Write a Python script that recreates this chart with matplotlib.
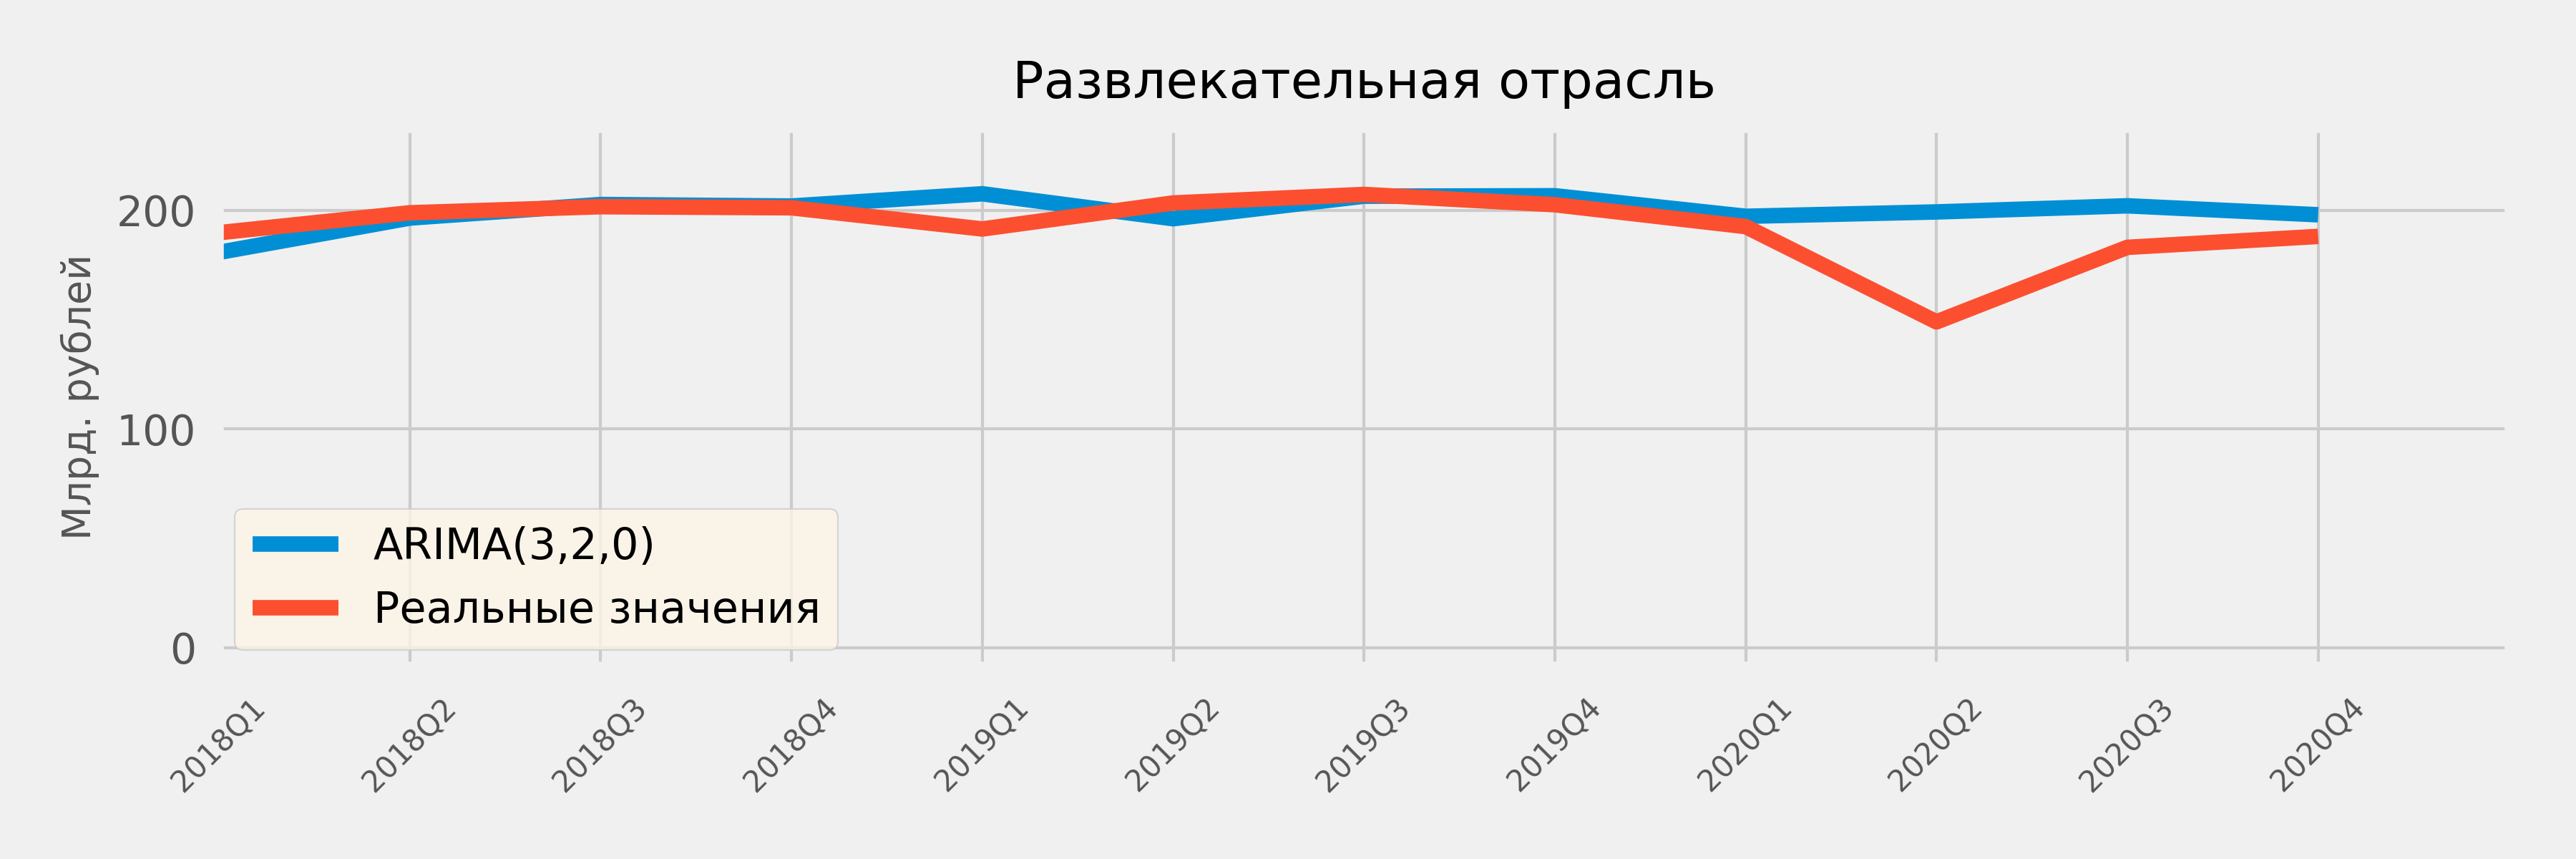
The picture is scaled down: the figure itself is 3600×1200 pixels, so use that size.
import matplotlib
matplotlib.use("Agg")
import matplotlib.pyplot as plt

plt.style.use("fivethirtyeight")
plt.rcParams['font.family'] = ['DejaVu Sans']

quarters = ["2018Q1", "2018Q2", "2018Q3", "2018Q4",
            "2019Q1", "2019Q2", "2019Q3", "2019Q4",
            "2020Q1", "2020Q2", "2020Q3", "2020Q4"]
arima = [180.8, 196.5, 202.7, 202.0, 207.6, 196.2, 206.5, 206.7, 197.3, 199.3, 202.1, 198.0]
real = [189.8, 198.9, 201.7, 201.2, 191.5, 203.4, 207.3, 202.6, 192.6, 149.0, 183.1, 188.1]

fig = plt.figure(figsize=(12, 4), dpi=300, facecolor="#f0f0f0")
ax = fig.add_axes([0.085, 0.225, 0.889, 0.626])
x = list(range(len(quarters)))
ax.plot(x, arima, color="#008fd5", lw=5.2, label="ARIMA(3,2,0)")
ax.plot(x, real, color="#fc4f30", lw=5.2, label="Реальные значения")

ax.set_xlim(0, 12)
ax.set_ylim(-8.3, 237.7)
ax.set_yticks([0, 100, 200])
ax.set_xticks(x)
ax.set_xticklabels(quarters, rotation=45, fontsize=10, color="#555555")
ax.tick_params(axis="x", pad=9)
ax.tick_params(axis="y", labelsize=14, labelcolor="#555555", pad=7.7)
ax.set_ylabel("Млрд. рублей", fontsize=13.3, color="#555555", labelpad=5.7)
ax.set_title("Развлекательная отрасль", fontsize=17.3, pad=10)
leg = ax.legend(loc="lower left", fontsize=14.5, facecolor="oldlace",
                framealpha=0.8, borderaxespad=0.37)

fig.savefig("out.png", dpi=300, facecolor="#f0f0f0")
